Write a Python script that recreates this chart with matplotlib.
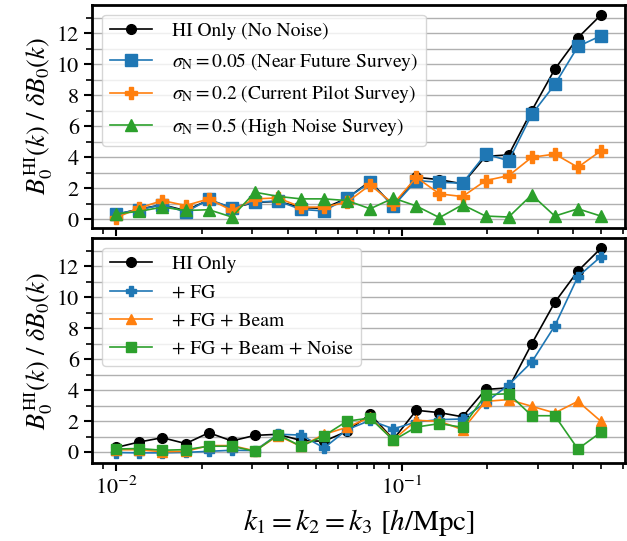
import matplotlib
matplotlib.use('Agg')
import matplotlib.pyplot as plt
from matplotlib.ticker import MultipleLocator

plt.rcParams['font.family'] = 'serif'
plt.rcParams['font.serif'] = ['STIXGeneral', 'Liberation Serif', 'DejaVu Serif']
plt.rcParams['mathtext.fontset'] = 'stix'

# k bins (h/Mpc)
k = [0.0100, 0.0120, 0.0145, 0.0175, 0.0211, 0.0254, 0.0306, 0.0369, 0.0444, 0.0535, 0.0644,
     0.0776, 0.0936, 0.1127, 0.1358, 0.1636, 0.1971, 0.2375, 0.2861, 0.3447, 0.4153, 0.5000]

# Top panel: HI signal to noise for different thermal noise levels
hi_only = [0.30, 0.65, 0.93, 0.55, 1.25, 0.72, 1.08, 1.15, 0.75, 0.70, 1.35, 2.45,
           0.82, 2.70, 2.55, 2.28, 4.05, 4.15, 7.00, 9.68, 11.70, 13.17]
noise_005 = [0.35, 0.61, 0.93, 0.46, 1.27, 0.74, 1.10, 1.17, 0.63, 0.53, 1.36, 2.38,
             0.85, 2.49, 2.38, 2.32, 4.20, 3.77, 6.76, 8.69, 11.14, 11.83]
noise_02 = [0.10, 0.72, 1.20, 0.88, 1.31, 0.56, 1.31, 1.37, 0.78, 0.78, 1.10, 2.21,
            0.99, 2.70, 1.63, 1.46, 2.49, 2.81, 3.99, 4.20, 3.35, 4.41]
noise_05 = [0.35, 0.50, 0.78, 0.56, 0.61, 0.14, 1.74, 1.47, 1.31, 1.31, 1.20, 0.67,
            1.36, 0.85, 0.10, 0.93, 0.20, 0.14, 1.57, 0.20, 0.67, 0.20]

# Bottom panel: effect of contaminants
with_fg = [-0.03, -0.05, -0.05, -0.02, 0.05, 0.12, 0.10, 1.15, 1.10, 0.27, 1.45, 2.05,
           1.50, 1.95, 2.10, 2.14, 3.20, 4.35, 5.82, 8.16, 11.34, 12.63]
with_fg_beam = [0.15, 0.15, 0.02, 0.05, 0.42, 0.42, 0.08, 1.06, 0.37, 1.15, 1.60, 2.25,
                0.80, 2.05, 1.99, 1.45, 3.28, 3.39, 2.96, 2.53, 3.28, 1.99]
with_fg_beam_noise = [0.20, 0.23, 0.12, 0.16, 0.38, 0.38, 0.05, 1.13, 0.37, 1.06, 2.00, 2.20,
                      0.76, 1.62, 1.84, 1.60, 3.71, 3.77, 2.35, 2.35, 0.20, 1.28]

fig = plt.figure(figsize=(6.27, 5.41), dpi=100)
ax1 = fig.add_axes([0.147, 0.579, 0.850, 0.412])
ax2 = fig.add_axes([0.147, 0.144, 0.850, 0.416], sharex=ax1)

lw = 1.2
# top panel
ax1.plot(k, hi_only, color='black', marker='o', ms=7, lw=lw, label='HI Only (No Noise)')
ax1.plot(k, noise_005, color='C0', marker='s', ms=9, lw=lw,
         label=r'$\sigma_{\rm N}=0.05$ (Near Future Survey)')
ax1.plot(k, noise_02, color='C1', marker='P', ms=9, lw=lw,
         label=r'$\sigma_{\rm N}=0.2$ (Current Pilot Survey)')
ax1.plot(k, noise_05, color='C2', marker='^', ms=9, lw=lw,
         label=r'$\sigma_{\rm N}=0.5$ (High Noise Survey)')

# bottom panel
ax2.plot(k, hi_only, color='black', marker='o', ms=7, lw=lw, label='HI Only')
ax2.plot(k, with_fg, color='C0', marker='P', ms=7, lw=lw, label='+ FG')
ax2.plot(k, with_fg_beam, color='C1', marker='^', ms=7, lw=lw, label='+ FG + Beam')
ax2.plot(k, with_fg_beam_noise, color='C2', marker='s', ms=7, lw=lw,
         label='+ FG + Beam + Noise')

for ax in (ax1, ax2):
    ax.set_xscale('log')
    ax.yaxis.set_major_locator(MultipleLocator(2))
    ax.yaxis.set_minor_locator(MultipleLocator(1))
    ax.grid(True, axis='y', which='both', color='#b0b0b0', lw=1.0)
    ax.set_axisbelow(True)
    for s in ax.spines.values():
        s.set_linewidth(2)
    ax.tick_params(which='major', length=6, width=1.5, labelsize=16)
    ax.tick_params(which='minor', length=4, width=1.2)
    ax.set_ylabel(r'$B_0^{\rm HI}(k)\ /\ \delta B_0(k)$', fontsize=19, labelpad=1)
    ax.legend(loc='upper left', fontsize=14, handlelength=2.2, borderaxespad=0.5,
              handletextpad=1.0, labelspacing=0.55)

ax1.tick_params(labelbottom=False)
ax2.set_xlabel(r'$k_1=k_2=k_3\ [h/{\rm Mpc}]$', fontsize=21, labelpad=6)

fig.savefig('out.png', dpi=100)
